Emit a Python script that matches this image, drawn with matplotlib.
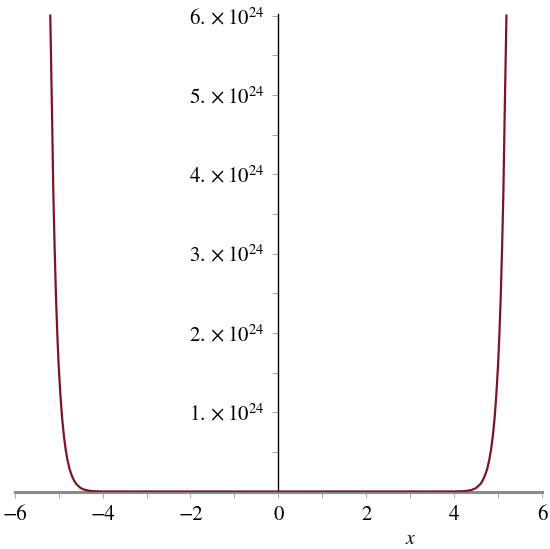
import numpy as np
import matplotlib
matplotlib.use("Agg")
from matplotlib import pyplot as plt
from matplotlib.ticker import MultipleLocator, FixedLocator

plt.rcParams['mathtext.fontset'] = 'stix'
plt.rcParams['font.family'] = ['STIXGeneral', 'DejaVu Serif']

# right half of the curve (y in units of 1e24)
x_half = [0.0, 4.00, 4.20, 4.30, 4.40, 4.50, 4.60, 4.65, 4.70, 4.75, 4.80, 4.84,
          4.88, 4.92, 4.96, 5.00, 5.03, 5.06, 5.09, 5.12, 5.15, 5.19]
y_half = [0.0, 0.0005, 0.004, 0.009, 0.020, 0.044, 0.095, 0.14, 0.20, 0.28, 0.40, 0.53,
          0.70, 0.92, 1.22, 1.60, 1.98, 2.45, 3.05, 3.75, 4.75, 6.0]

x_ticks = [-6, -4, -2, 0, 2, 4, 6]
y_ticks = [1, 2, 3, 4, 5, 6]
y_labels = [r'$%d.\times10^{24}$' % v for v in y_ticks]

x_vals = np.concatenate([-np.array(x_half[::-1]), np.array(x_half[1:])])
y_vals = np.concatenate([np.array(y_half[::-1]), np.array(y_half[1:])]) * 1e24

fig = plt.figure(figsize=(5.5, 5.49), dpi=100)
ax = fig.add_axes([0.0267, 0.1047, 0.9588, 0.8698])

ax.plot(x_vals, y_vals, color='#7d1424', lw=1.6, zorder=5, clip_on=True)

ax.set_xlim(-6, 6)
ax.set_ylim(0, 6.02e24)

ax.spines['top'].set_visible(False)
ax.spines['right'].set_visible(False)
ax.spines['left'].set_position(('data', 0))
ax.spines['bottom'].set_position(('data', 0))
ax.spines['left'].set_color('black')
ax.spines['left'].set_linewidth(1.0)
ax.spines['bottom'].set_color('#8a8a8a')
ax.spines['bottom'].set_linewidth(2.2)

ax.xaxis.set_major_locator(FixedLocator(x_ticks))
ax.xaxis.set_minor_locator(MultipleLocator(1))
ax.set_xticklabels([('\u2212%d' % -v) if v < 0 else str(v) for v in x_ticks])
ax.yaxis.set_major_locator(FixedLocator([v * 1e24 for v in y_ticks]))
ax.yaxis.set_minor_locator(MultipleLocator(0.5e24))
ax.set_yticklabels(y_labels)

ax.tick_params(axis='x', which='both', direction='out', length=4, width=0.6,
               color='#999999', labelsize=15, pad=6)
ax.tick_params(axis='y', which='both', direction='out', length=4, width=0.6,
               color='#999999', labelsize=15, pad=6)
ax.yaxis.get_offset_text().set_visible(False)

ax.set_xlabel('x', fontsize=14, style='italic')
ax.xaxis.set_label_coords(0.75, -0.08)

fig.savefig('out.png', dpi=100)
